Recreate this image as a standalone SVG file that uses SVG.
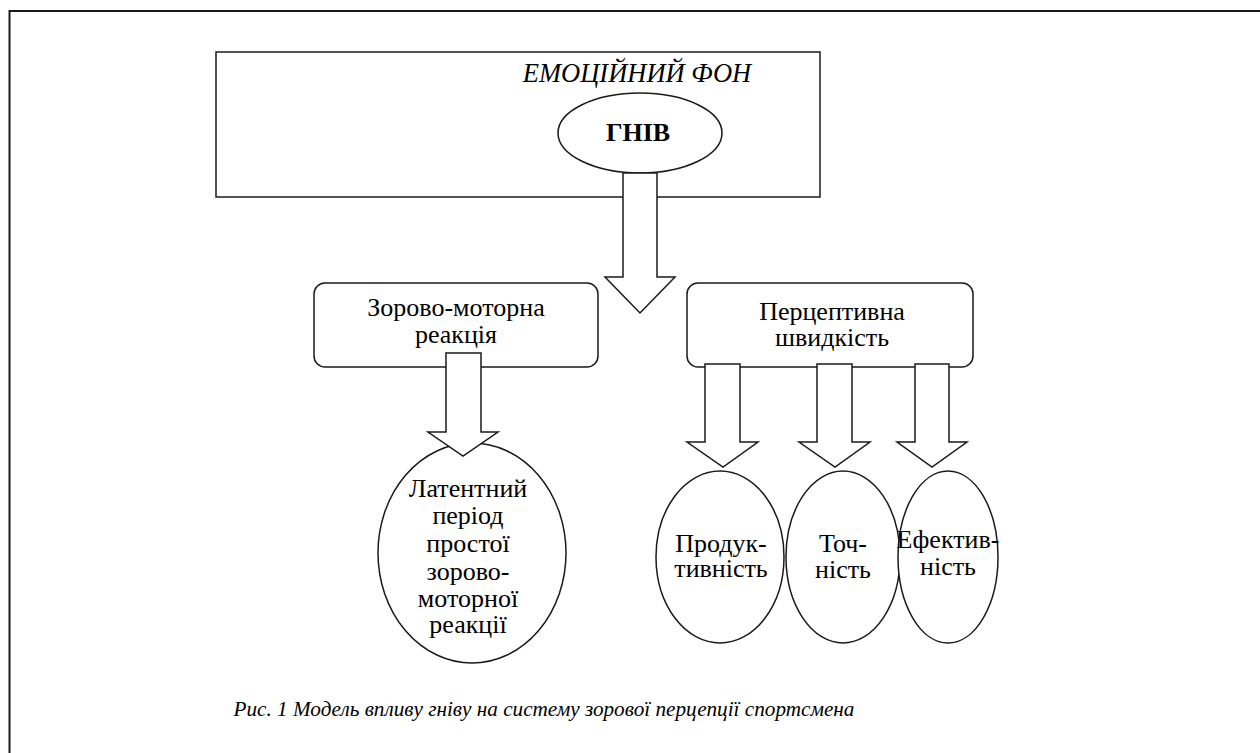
<svg xmlns="http://www.w3.org/2000/svg" width="1260" height="753" viewBox="0 0 1260 753">
<rect x="0" y="0" width="1260" height="753" fill="#fff"/>
<rect x="9.5" y="11" width="1262" height="760" fill="none" stroke="#1a1a1a" stroke-width="2"/>

<g fill="#fff" stroke="#1a1a1a" stroke-width="1.5">
<g id="emotional-background">
  <rect x="216" y="52" width="604" height="145"/>
  <text x="637" y="82" font-family="Liberation Serif" font-size="26.5" font-style="italic" text-anchor="middle" fill="#000" stroke="none">ЕМОЦІЙНИЙ ФОН</text>
</g>
<g id="anger">
  <ellipse cx="640" cy="133" rx="82" ry="40"/>
  <text x="638" y="141" font-family="Liberation Serif" font-size="26" font-weight="bold" text-anchor="middle" fill="#000" stroke="none">ГНІВ</text>
</g>

<g id="connectors">
  <polygon points="623,173 657,173 657,277 675,277 640,313 605,277 623,277"/>
</g>

<g id="visual-motor">
  <rect x="314" y="283" width="284" height="84" rx="11"/>
  <g font-size="26" text-anchor="middle" fill="#000" stroke="none">
    <text x="456" y="316" font-family="Liberation Serif">Зорово-моторна</text>
    <text x="456" y="343" font-family="Liberation Serif">реакція</text>
  </g>
</g>
<g id="perceptual-speed">
  <rect x="687" y="283" width="286" height="84" rx="11"/>
  <g font-size="26" text-anchor="middle" fill="#000" stroke="none">
    <text x="832" y="320" font-family="Liberation Serif">Перцептивна</text>
    <text x="832" y="346" font-family="Liberation Serif">швидкість</text>
  </g>
</g>

<g id="latent">
  <ellipse cx="472" cy="553" rx="94" ry="110"/>
  <g font-size="26" text-anchor="middle" fill="#000" stroke="none">
    <text x="468" y="497" font-family="Liberation Serif">Латентний</text>
    <text x="468" y="524" font-family="Liberation Serif">період</text>
    <text x="468" y="552" font-family="Liberation Serif">простої</text>
    <text x="468" y="580" font-family="Liberation Serif">зорово-</text>
    <text x="468" y="607" font-family="Liberation Serif">моторної</text>
    <text x="468" y="633" font-family="Liberation Serif">реакції</text>
  </g>
</g>
<g id="productivity">
  <ellipse cx="720" cy="557" rx="64" ry="86"/>
  <g font-size="26" text-anchor="middle" fill="#000" stroke="none">
    <text x="721" y="552" font-family="Liberation Serif">Продук-</text>
    <text x="721" y="577" font-family="Liberation Serif">тивність</text>
  </g>
</g>
<g id="accuracy">
  <ellipse cx="843" cy="557" rx="57" ry="86"/>
  <g font-size="26" text-anchor="middle" fill="#000" stroke="none">
    <text x="843" y="552" font-family="Liberation Serif">Точ-</text>
    <text x="843" y="578" font-family="Liberation Serif">ність</text>
  </g>
</g>
<g id="efficiency">
  <ellipse cx="948" cy="557" rx="50" ry="86"/>
  <g font-size="26" text-anchor="middle" fill="#000" stroke="none">
    <text x="948" y="548" font-family="Liberation Serif">Ефектив-</text>
    <text x="948" y="575" font-family="Liberation Serif">ність</text>
  </g>
</g>

<g id="connectors-lower">
  <polygon points="446,353 481,353 481,432 498,432 463,456 428,432 446,432"/>
  <polygon points="705,364 740,364 740,442 758,442 723,467 687,442 705,442"/>
  <polygon points="817,364 852,364 852,442 870,442 835,467 799,442 817,442"/>
  <polygon points="915,364 949,364 949,442 967,442 932,467 897,442 915,442"/>
</g>
</g>

<text x="544" y="716" font-family="Liberation Serif" font-size="21.2" font-style="italic" text-anchor="middle" fill="#000">Рис. 1 Модель впливу гніву на систему зорової перцепції спортсмена</text>
</svg>
